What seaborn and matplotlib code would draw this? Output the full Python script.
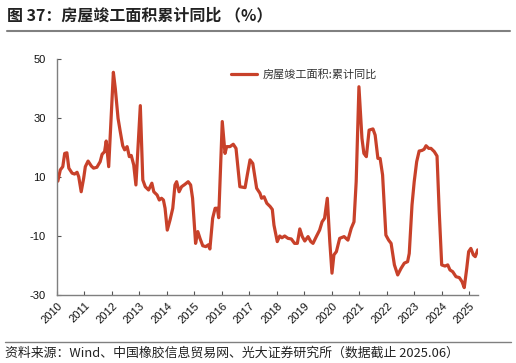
import matplotlib
matplotlib.use("Agg")
import matplotlib.pyplot as plt
from matplotlib.lines import Line2D
import seaborn as sns
import pandas as pd

# ---- data ----
dates = [2010.03, 2010.12, 2010.21, 2010.28, 2010.36, 2010.43, 2010.55, 2010.64, 2010.73, 2010.79,
         2010.88, 2010.97, 2011.03, 2011.13, 2011.25, 2011.33, 2011.45, 2011.57, 2011.64, 2011.73,
         2011.79, 2011.88, 2012.05, 2012.12, 2012.22, 2012.30, 2012.39, 2012.46, 2012.55, 2012.63,
         2012.70, 2012.79, 2012.87, 2013.03, 2013.12, 2013.21, 2013.33, 2013.45, 2013.52, 2013.64,
         2013.72, 2013.80, 2013.87, 2013.93, 2014.01, 2014.11, 2014.21, 2014.29, 2014.35, 2014.44,
         2014.53, 2014.65, 2014.77, 2014.86, 2014.93, 2015.04, 2015.12, 2015.20, 2015.30, 2015.41,
         2015.50, 2015.56, 2015.66, 2015.75, 2015.83, 2015.88, 2016.01, 2016.11, 2016.17, 2016.29,
         2016.41, 2016.51, 2016.65, 2016.84, 2016.92, 2017.02, 2017.12, 2017.26, 2017.38, 2017.44,
         2017.53, 2017.63, 2017.75, 2017.83, 2017.89, 2018.01, 2018.10, 2018.18, 2018.28, 2018.40,
         2018.52, 2018.64, 2018.74, 2018.83, 2018.92, 2019.01, 2019.13, 2019.23, 2019.31, 2019.43,
         2019.55, 2019.64, 2019.73, 2019.83, 2019.92, 2020.00, 2020.07, 2020.16, 2020.28, 2020.44,
         2020.58, 2020.70, 2020.80, 2020.88, 2020.98, 2021.09, 2021.16, 2021.25, 2021.35, 2021.49,
         2021.57, 2021.67, 2021.75, 2021.84, 2021.96, 2022.06, 2022.15, 2022.27, 2022.39, 2022.51,
         2022.63, 2022.75, 2022.81, 2022.91, 2022.99, 2023.08, 2023.17, 2023.27, 2023.35, 2023.42,
         2023.52, 2023.60, 2023.72, 2023.82, 2023.90, 2023.99, 2024.11, 2024.21, 2024.29, 2024.39,
         2024.51, 2024.63, 2024.73, 2024.81, 2024.90, 2024.97, 2025.05, 2025.14, 2025.21, 2025.30]
values = [8.6, 12.4, 13.5, 18.0, 18.2, 13.0, 11.3, 11.0, 11.6, 10.1,
          5.0, 9.6, 13.5, 15.4, 13.7, 13.0, 13.3, 15.2, 17.7, 18.6,
          22.2, 13.5, 45.5, 40.0, 29.9, 25.4, 20.6, 19.2, 20.3, 16.9,
          17.3, 14.1, 7.3, 34.2, 9.0, 6.7, 5.6, 7.9, 5.0, 3.9,
          2.2, 2.8, 2.2, -0.6, -8.0, -4.6, -0.6, 7.3, 8.4, 5.0,
          6.7, 7.5, 8.4, 7.3, 2.8, -12.5, -8.5, -10.8, -13.3, -13.6,
          -13.0, -14.4, -4.0, -0.6, -0.6, -3.8, 28.8, 18.0, 20.3, 20.3,
          21.1, 19.7, 6.7, 6.4, 10.7, 15.8, 14.6, 6.2, 4.5, 2.8,
          3.3, 1.1, 0.0, -1.0, -6.3, -11.9, -10.0, -10.6, -10.0, -10.8,
          -11.0, -12.5, -12.5, -7.6, -10.2, -11.7, -10.2, -11.9, -12.5, -10.2,
          -8.0, -5.2, -4.0, 2.8, -11.9, -22.6, -16.4, -15.3, -10.8, -10.2,
          -11.4, -7.4, -5.2, 8.4, 40.6, 23.1, 18.0, 16.9, 25.9, 26.3,
          24.2, 16.3, 16.3, 10.7, -9.7, -11.4, -12.5, -19.8, -23.2, -21.0,
          -19.2, -18.7, -15.9, 0.5, 8.4, 15.2, 18.8, 19.0, 19.4, 20.6,
          19.7, 19.7, 18.6, 17.1, -1.8, -19.8, -20.2, -19.8, -21.5, -22.1,
          -23.8, -24.1, -25.5, -27.5, -21.0, -15.3, -14.2, -16.4, -17.0, -14.7]
year_ticks = list(range(2010, 2026))
year_labels = [str(y) for y in year_ticks]
y_ticks = [-30, -10, 10, 30, 50]
series_name = "房屋竣工面积:累计同比"
title_text = "图 37：房屋竣工面积累计同比 （%）"
source_text = "资料来源：Wind、中国橡胶信息贸易网、光大证券研究所（数据截止 2025.06）"

line_color = "#C8412A"

sns.set_style("ticks")
plt.rcParams["font.family"] = ["Liberation Sans", "Noto Sans CJK SC", "DejaVu Sans"]

W, H = 516, 363
fig = plt.figure(figsize=(W / 100, H / 100), dpi=100)
ax = fig.add_axes([57 / W, 1 - 295 / H, (478 - 57) / W, (295 - 59) / H])

df = pd.DataFrame({"t": dates, "v": values, "s": series_name})
sns.lineplot(data=df, x="t", y="v", hue="s", palette=[line_color], linewidth=2.3, ax=ax)

ax.set_xlim(2010.0, 2025.31)
ax.set_ylim(-30, 50)
ax.set_yticks(y_ticks)
ax.set_yticklabels([str(v) for v in y_ticks])
ax.set_xticks(year_ticks)
ax.set_xticklabels(year_labels, rotation=45, ha="right", rotation_mode="anchor")
ax.set_xlabel("")
ax.set_ylabel("")
for s in ["top", "right"]:
    ax.spines[s].set_visible(False)
for s in ["left", "bottom"]:
    ax.spines[s].set_color("#7f7f7f")
    ax.spines[s].set_linewidth(1.0)
ax.tick_params(axis="both", direction="in", length=3, width=0.8, color="#555555",
               labelsize=8, labelcolor="#111111")
ax.tick_params(axis="y", pad=8)
ax.tick_params(axis="x", pad=4)

leg = ax.legend(loc="upper left", bbox_to_anchor=(0.39, 1.0), frameon=False,
                prop={"family": ["Noto Sans CJK SC"], "size": 8},
                handlelength=2.3, handletextpad=0.5)
for t in leg.get_texts():
    t.set_color("#333333")

fig.text(7 / W, 1 - 15 / H, title_text, fontsize=11.5, fontweight="bold",
         family=["Noto Sans CJK SC"], color="#222222", va="center", ha="left")
fig.add_artist(Line2D([7 / W, 510 / W], [1 - 31 / H, 1 - 31 / H], color="#808080", lw=1.5))
fig.add_artist(Line2D([5 / W, 511 / W], [1 - 342 / H, 1 - 342 / H], color="#808080", lw=1.0))
fig.text(5 / W, 1 - 353 / H, source_text, fontsize=9.3, family=["Noto Sans CJK SC"],
         color="#222222", va="center", ha="left")

fig.savefig("out.png", dpi=100)
